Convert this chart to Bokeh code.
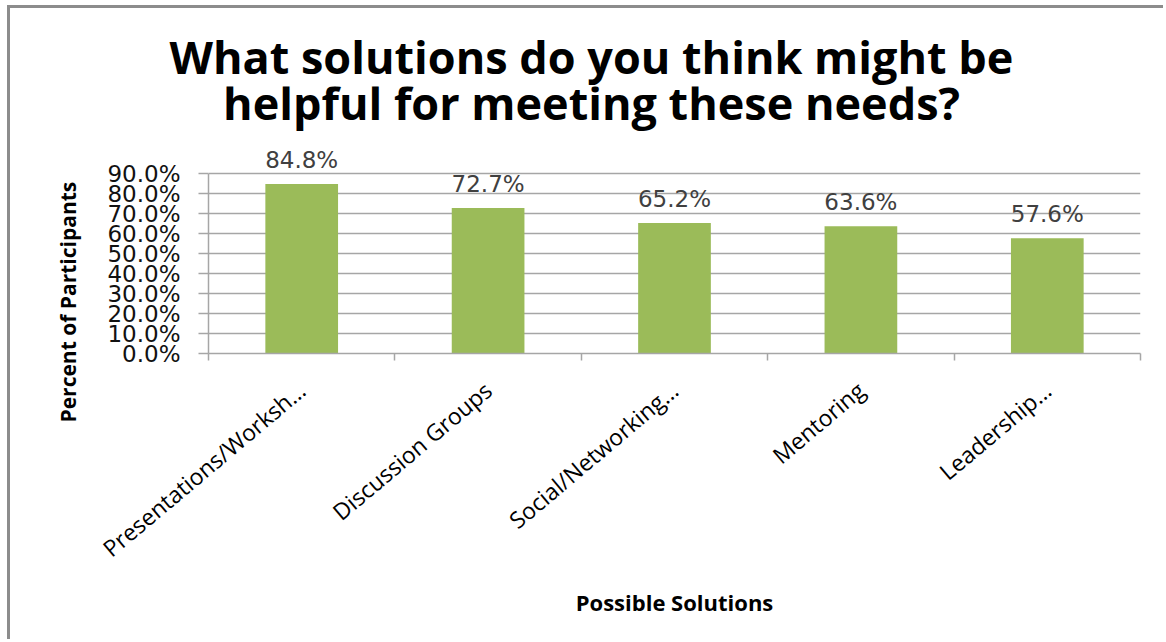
import math
from bokeh.plotting import figure
from bokeh.models import (ColumnDataSource, Range1d, LinearAxis, Title, Label,
                          FixedTicker, PrintfTickFormatter, LabelSet)
from bokeh.core.properties import value
from bokeh.embed import file_html
from bokeh.resources import INLINE

# ---- data ----
categories = ["Presentations/Worksh\u2026", "Discussion Groups", "Social/Networking\u2026",
              "Mentoring", "Leadership\u2026"]
percents = [84.8, 72.7, 65.2, 63.6, 57.6]
pct_labels = ["84.8%", "72.7%", "65.2%", "63.6%", "57.6%"]
y_ticks = [0, 10, 20, 30, 40, 50, 60, 70, 80, 90]
title_lines = ["What solutions do you think might be", "helpful for meeting these needs?"]
x_title = "Possible Solutions"
y_title = "Percent of Participants"

GRID = "#a6a6a6"
BAR = "#9BBB59"

n = len(categories)
centers = [i + 0.5 for i in range(n)]
edges = [float(i) for i in range(n + 1)]

src = ColumnDataSource(dict(x=centers, cat=categories, pct=percents, lab=pct_labels))

# frame extends above 90% to hold the data labels and the second title line
p = figure(width=1156, height=634, x_range=Range1d(0, n), y_range=Range1d(0, 133.5),
           output_backend="svg", toolbar_location=None, x_axis_location=None,
           y_axis_location=None, title_location=None)
p.styles = {"margin-left": "7px", "margin-top": "5px",
            "border-left": "3px solid #8c8c8c", "border-top": "3px solid #8c8c8c"}
p.min_border_left = 198
p.min_border_right = 26
p.min_border_top = 78
p.min_border_bottom = 289
p.outline_line_color = None
p.background_fill_color = "white"
p.border_fill_color = "white"

p.vbar(x="x", top="pct", width=0.39, source=src, fill_color=BAR, line_color=None)

# y axis
yax = LinearAxis(ticker=FixedTicker(ticks=y_ticks), formatter=PrintfTickFormatter(format="%.1f%%"),
                 bounds=(0, 90))
yax.axis_line_color = GRID
yax.axis_line_width = 1.5
yax.major_tick_line_color = GRID
yax.major_tick_line_width = 1.5
yax.major_tick_in = 0
yax.major_tick_out = 10
yax.minor_tick_line_color = None
yax.major_label_text_font = "DejaVu Sans"
yax.major_label_text_font_size = "23px"
yax.major_label_text_color = "#111111"
yax.major_label_standoff = 18
p.add_layout(yax, "left")

p.add_layout(Title(text=y_title, align="left", offset=-69, standoff=45,
                   text_font="Open Sans", text_font_style="bold", text_font_size="21px",
                   text_color="#000000"), "left")

p.ygrid.ticker = FixedTicker(ticks=y_ticks)
p.ygrid.grid_line_color = GRID
p.ygrid.grid_line_width = 1.5
p.xgrid.grid_line_color = None

# x axis: category labels at centres, boundary ticks as minor ticks
xax = LinearAxis(ticker=FixedTicker(ticks=centers, minor_ticks=edges))
xax.major_label_overrides = {c: lab for c, lab in zip(centers, categories)}
xax.axis_line_color = GRID
xax.axis_line_width = 1.5
xax.major_tick_line_color = None
xax.major_tick_in = 0
xax.major_tick_out = 7
xax.minor_tick_line_color = GRID
xax.minor_tick_line_width = 1.5
xax.minor_tick_in = 0
xax.minor_tick_out = 7
xax.major_label_orientation = 0.70
xax.major_label_text_font = "Open Sans"
xax.major_label_text_font_size = "23px"
xax.major_label_text_color = "#000000"
xax.major_label_standoff = 26
xax.axis_label = x_title
xax.axis_label_text_font = "Open Sans"
xax.axis_label_text_font_style = "bold"
xax.axis_label_text_font_size = "22px"
xax.axis_label_text_color = "#000000"
xax.axis_label_standoff = 8
p.add_layout(xax, "below")

# data labels
p.add_layout(LabelSet(x="x", y="pct", text="lab", source=src, text_align="center",
                      text_baseline="alphabetic", y_offset=16,
                      text_font=value("DejaVu Sans"), text_font_size="23px",
                      text_color="#404040"))

# chart title: first line above the frame, second line inside it
p.add_layout(Title(text=title_lines[0], align="left", offset=-39, standoff=0,
                   text_font="Open Sans", text_font_style="bold", text_font_size="45px",
                   text_color="#000000"), "above")
p.add_layout(Label(x=2.055, y=125.5, text=title_lines[1], text_align="center",
                   text_baseline="alphabetic", text_font="Open Sans", text_font_style="bold",
                   text_font_size="45px", text_color="#000000"))

open("out.html", "w").write(file_html(p, INLINE))
